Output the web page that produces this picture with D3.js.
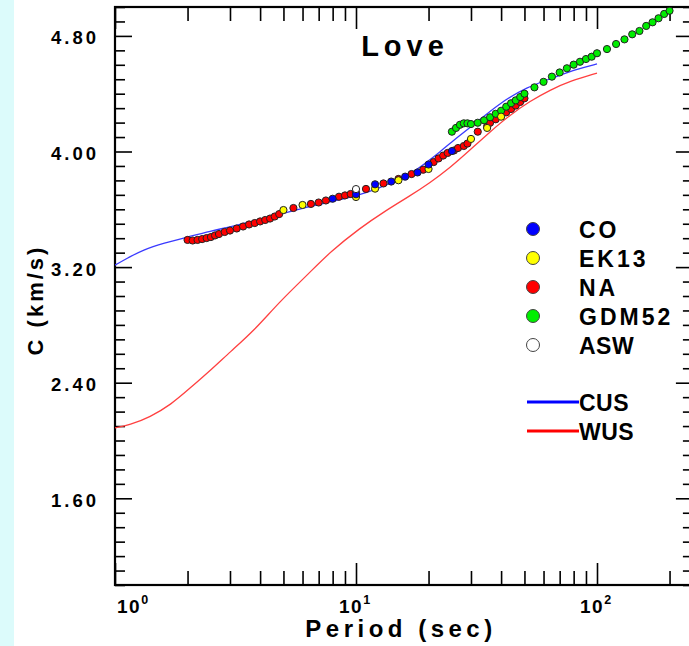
<!DOCTYPE html>
<html><head><meta charset="utf-8">
<script src="https://cdn.jsdelivr.net/npm/d3@7"></script>
<style>body{margin:0;background:#fff;} svg{display:block;font-family:"Liberation Sans",Arial,sans-serif;font-weight:bold;}</style>
</head><body>
<svg id="c" width="689" height="646"></svg>
<script>
// ---- data ----
const cusPeriod = [1, 1.15, 1.3, 1.6, 2, 2.5, 3, 3.6, 4.8, 6, 7.8, 10, 12.2, 15.2, 17.6, 19.7, 22.3, 25.8, 31.8, 39.6, 51.2, 65.7, 82.6, 100];
const cusVel = [3.214, 3.270, 3.318, 3.367, 3.408, 3.450, 3.478, 3.512, 3.561, 3.609, 3.651, 3.692, 3.740, 3.810, 3.865, 3.927, 3.997, 4.087, 4.204, 4.336, 4.446, 4.509, 4.571, 4.606];
const wusPeriod = [1, 1.15, 1.4, 1.7, 2.05, 2.5, 3, 3.8, 4.8, 6.4, 7.8, 10.4, 13.2, 16.7, 20.2, 24.5, 29.7, 35.9, 43.6, 52.8, 63.9, 77.4, 100];
const wusVel = [2.087, 2.107, 2.163, 2.246, 2.363, 2.488, 2.612, 2.765, 2.958, 3.159, 3.304, 3.471, 3.588, 3.692, 3.782, 3.886, 4.010, 4.135, 4.253, 4.349, 4.426, 4.488, 4.543];
const naPeriod = [2.0,2.1,2.2,2.3,2.4,2.5,2.6,2.7,2.85,3.0,3.2,3.4,3.6,3.8,4.0,4.2,4.4,4.6,4.8,5.5,6.5,7.0,7.5,8.5,9.0,9.5,10,11,13,15,17,19,21,22,23,24,25.5,26.5,28,29,32,35,36,38,40,42,44,46,48,50];
const naVel = [3.388,3.384,3.388,3.394,3.401,3.408,3.419,3.429,3.443,3.453,3.467,3.481,3.495,3.505,3.516,3.526,3.536,3.550,3.567,3.609,3.637,3.647,3.661,3.687,3.696,3.706,3.716,3.741,3.779,3.810,3.844,3.874,3.927,3.952,3.972,3.990,4.007,4.024,4.038,4.055,4.137,4.173,4.199,4.223,4.246,4.271,4.294,4.318,4.343,4.368];
const coPeriod = [8,10,12,14,16,18,20,25];
const coVel = [3.673,3.704,3.773,3.792,3.826,3.855,3.910,4.003];
const ekPeriod = [5,6,10,12,15,20,30,35,40];
const ekVel = [3.595,3.630,3.685,3.743,3.801,3.879,4.087,4.163,4.241];
const gdmPeriod = [25,26,27,28,29,30,32,34,36,38,40,42,44,46,48,50,55,60,65,70,75,80,85,90,95,100,110,120,130,140,150,160,170,180,190,200];
const gdmVel = [4.137,4.163,4.185,4.195,4.195,4.190,4.199,4.216,4.237,4.261,4.282,4.310,4.334,4.354,4.377,4.400,4.444,4.482,4.518,4.547,4.576,4.601,4.621,4.640,4.656,4.680,4.709,4.744,4.776,4.811,4.834,4.869,4.894,4.922,4.952,4.974];
const aswPeriod = [10];
const aswVel = [3.74];

const pointNames = ["CO", "EK13", "NA", "GDM52", "ASW"];
const pointColors = ["#0000ff", "#ffff00", "#ff0000", "#00ee00", "#ffffff"];
const lineNames = ["CUS", "WUS"];
const lineColors = ["#3a3aff", "#ff4040"];
const legendLineColors = ["#0000ff", "#ff0000"];
const yTickLabels = [1.6, 2.4, 3.2, 4.0, 4.8];
const xDecades = [1, 10, 100];

// ---- layout ----
const svg = d3.select("#c");
const L = 115, T = 7, B = 585, DEC = 241;
const xMax = 250;
const x = d3.scaleLog().domain([1, xMax]).range([L, L + DEC * Math.log10(xMax)]);
const y = d3.scaleLinear().domain([1, 5]).range([B, T]);
const R = x(xMax);

svg.append("rect").attr("x", 0).attr("y", 0).attr("width", 14).attr("height", 646).attr("fill", "#dcfbfb");

svg.append("defs").append("clipPath").attr("id", "clip")
  .append("rect").attr("x", L).attr("y", T).attr("width", R - L).attr("height", B - T);

// ticks
const xMinor = [];
for (let d = 1; d <= 100; d *= 10) for (let k = 2; k <= 9; k++) if (d * k < xMax) xMinor.push(d * k);
const yMinor = d3.range(10, 51).map(v => v / 10).filter(v => !yTickLabels.some(m => Math.abs(m - v) < 1e-6));

function styleAxis(g) {
  g.select(".domain").remove();
  g.selectAll("line").attr("stroke", "#000").attr("stroke-width", 1.6);
}
svg.append("g").attr("transform", `translate(0,${B})`).call(d3.axisBottom(x).tickValues(xMinor).tickSize(-14).tickFormat("")).call(styleAxis);
svg.append("g").attr("transform", `translate(0,${B})`).call(d3.axisBottom(x).tickValues(xDecades).tickSize(-22).tickFormat("")).call(styleAxis);
svg.append("g").attr("transform", `translate(0,${T})`).call(d3.axisTop(x).tickValues(xMinor).tickSize(-14).tickFormat("")).call(styleAxis);
svg.append("g").attr("transform", `translate(0,${T})`).call(d3.axisTop(x).tickValues(xDecades).tickSize(-22).tickFormat("")).call(styleAxis);
svg.append("g").attr("transform", `translate(${L},0)`).call(d3.axisLeft(y).tickValues(yMinor).tickSize(-10).tickFormat("")).call(styleAxis);
svg.append("g").attr("transform", `translate(${L},0)`).call(d3.axisLeft(y).tickValues(yTickLabels).tickSize(-17).tickFormat("")).call(styleAxis);
svg.append("g").attr("transform", `translate(${R},0)`).call(d3.axisRight(y).tickValues(yMinor).tickSize(-10).tickFormat("")).call(styleAxis);
svg.append("g").attr("transform", `translate(${R},0)`).call(d3.axisRight(y).tickValues(yTickLabels).tickSize(-17).tickFormat("")).call(styleAxis);

// frame
svg.append("rect").attr("x", L).attr("y", T).attr("width", R - L).attr("height", B - T)
  .attr("fill", "none").attr("stroke", "#000").attr("stroke-width", 2.2);

// y tick labels
svg.append("g").selectAll("text").data(yTickLabels).join("text")
  .attr("x", 99).attr("y", d => y(d) + 8.5).attr("text-anchor", "end")
  .attr("font-size", 18.5).attr("letter-spacing", 3).text(d => d.toFixed(2));

// x tick labels
const xl = svg.append("g").selectAll("text").data(xDecades).join("text")
  .attr("x", (d, i) => i === 0 ? x(d) + 2 : x(d) - 17).attr("y", 613)
  .attr("font-size", 19).attr("letter-spacing", 1.5);
xl.append("tspan").text("10");
xl.append("tspan").attr("dy", -9).attr("font-size", 12.5).text((d, i) => i);

// axis titles
svg.append("text").attr("x", 401).attr("y", 637).attr("text-anchor", "middle")
  .attr("font-size", 24).attr("letter-spacing", 4.5).text("Period (sec)");
svg.append("text").attr("transform", "translate(43,300) rotate(-90)").attr("text-anchor", "middle")
  .attr("font-size", 22).attr("letter-spacing", 3).text("C (km/s)");
svg.append("text").attr("x", 405).attr("y", 56).attr("text-anchor", "middle")
  .attr("font-size", 29).attr("letter-spacing", 5).text("Love");

// curves
const plot = svg.append("g").attr("clip-path", "url(#clip)");
const line = d3.line().x(d => x(d[0])).y(d => y(d[1])).curve(d3.curveBasis);
[[cusPeriod, cusVel], [wusPeriod, wusVel]].forEach((s, i) => {
  plot.append("path").datum(d3.zip(s[0], s[1])).attr("d", line)
    .attr("fill", "none").attr("stroke", lineColors[i]).attr("stroke-width", 1.3);
});

// points
const series = [[naPeriod, naVel, 2], [gdmPeriod, gdmVel, 3], [ekPeriod, ekVel, 1], [coPeriod, coVel, 0], [aswPeriod, aswVel, 4]];
series.forEach(s => {
  plot.append("g").selectAll("circle").data(d3.zip(s[0], s[1])).join("circle")
    .attr("cx", d => x(d[0])).attr("cy", d => y(d[1])).attr("r", 3.6)
    .attr("fill", pointColors[s[2]]).attr("stroke", "#222").attr("stroke-width", 1);
});

// legend
const lg = svg.append("g");
const legY = [229, 258, 287, 316, 345];
pointNames.forEach((n, i) => {
  lg.append("circle").attr("cx", 533).attr("cy", legY[i]).attr("r", 6.5)
    .attr("fill", pointColors[i]).attr("stroke", "#444").attr("stroke-width", 1);
  lg.append("text").attr("x", 579).attr("y", legY[i] + 8.5).attr("font-size", 23)
    .attr("letter-spacing", n === "ASW" ? 0.5 : 3).text(n);
});
const lineY = [402, 431];
lineNames.forEach((n, i) => {
  lg.append("line").attr("x1", 527).attr("x2", 579).attr("y1", lineY[i]).attr("y2", lineY[i])
    .attr("stroke", legendLineColors[i]).attr("stroke-width", 3);
  lg.append("text").attr("x", 579).attr("y", lineY[i] + 8.5).attr("font-size", 23)
    .attr("letter-spacing", 0.5).text(n);
});
</script>
</body></html>
